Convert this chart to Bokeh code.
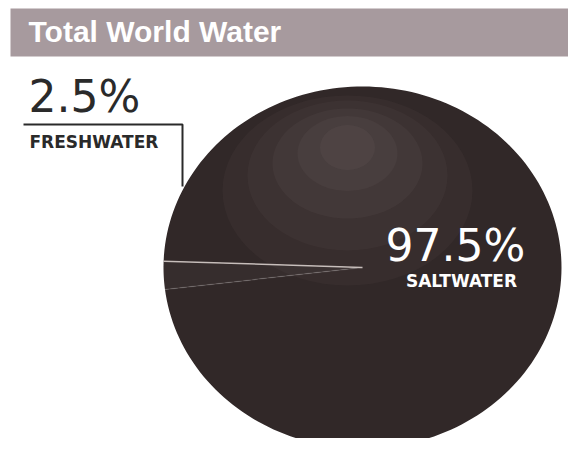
import numpy as np
from bokeh.plotting import figure
from bokeh.models import Range1d, ColumnDataSource
from bokeh.core.properties import value
from bokeh.embed import file_html
from bokeh.resources import INLINE

# ---- data ----
title_text = "Total World Water"
slice_names = ["FRESHWATER", "SALTWATER"]
slice_shares = [2.5, 97.5]
slice_pct_labels = ["2.5%", "97.5%"]

# ---- styling / layout constants ----
slice_colors = ["#362d2d", "#312828"]
START_DEG = 178.0
H_IMG = 454  # image-pixel helper (y measured from top)

def Y(y_img):
    return H_IMG - y_img

def TB(y_img, size):
    # baseline placement correction
    return Y(y_img) + 0.35 * size

CX, CY = 362, Y(267)
RX, RY = 199, 181

p = figure(width=568, height=438, output_backend="svg", toolbar_location=None,
           x_range=Range1d(0, 568), y_range=Range1d(16, 454), min_border=0,
           background_fill_color="white", border_fill_color="white")
p.axis.visible = False
p.grid.visible = False
p.outline_line_color = None

# title band
p.quad(left=[10], right=[576], top=[Y(8)], bottom=[Y(56)],
       fill_color="#a79a9e", line_color=None)
p.text(x=[28], y=[TB(41, 30)], text=[title_text], text_color="white",
       text_font=value("Liberation Sans"), text_font_style="bold",
       text_font_size="30px", text_baseline="alphabetic", text_align="left")

# pie slices (ellipse-shaped, computed from shares)
bounds = START_DEG + np.cumsum([0] + slice_shares) / sum(slice_shares) * 360.0
xs, ys = [], []
for a0, a1 in zip(bounds[:-1], bounds[1:]):
    t = np.radians(np.linspace(a0, a1, 200))
    xs.append([CX] + list(CX + RX * np.cos(t)))
    ys.append([CY] + list(CY + RY * np.sin(t)))
src = ColumnDataSource(dict(xs=xs, ys=ys, color=slice_colors, name=slice_names))
p.patches(xs="xs", ys="ys", fill_color="color", line_color=None, source=src)

# soft sheen on upper part of disc (kept inside the disc)
for w, h, yc, a in [(250, 190, 190, 0.04), (200, 150, 175, 0.04),
                    (150, 110, 163, 0.05), (100, 75, 153, 0.05), (55, 45, 147, 0.05)]:
    p.ellipse(x=[CX - 15], y=[Y(yc)], width=[w], height=[h],
              fill_color="#c0b0b0", fill_alpha=a, line_color=None)

# slice boundary highlight lines
for a, alpha in zip(bounds[:2], [0.85, 0.12]):
    r = np.radians(a)
    p.line(x=[CX, CX + RX * np.cos(r)], y=[CY, CY + RY * np.sin(r)],
           line_color="#d9d0cc", line_width=1.5, line_alpha=alpha)

# freshwater label + leader
p.text(x=[28], y=[TB(111, 44)], text=[slice_pct_labels[0]], text_color="#2a2a2a",
       text_font=value("DejaVu Sans"), text_font_size="44px",
       text_baseline="alphabetic", text_align="left")
p.line(x=[23, 182, 182], y=[Y(124), Y(124), Y(186)], line_color="#2a2a2a", line_width=2)
p.text(x=[29], y=[TB(147, 17)], text=[slice_names[0]], text_color="#2a2a2a",
       text_font=value("DejaVu Sans"), text_font_style="bold", text_font_size="17px",
       text_baseline="alphabetic", text_align="left")

# saltwater label
p.text(x=[455], y=[TB(260, 44)], text=[slice_pct_labels[1]], text_color="white",
       text_font=value("DejaVu Sans"), text_font_size="44px",
       text_baseline="alphabetic", text_align="center")
p.text(x=[461], y=[TB(286, 17)], text=[slice_names[1]], text_color="white",
       text_font=value("DejaVu Sans"), text_font_style="bold", text_font_size="17px",
       text_baseline="alphabetic", text_align="center")

open("out.html", "w").write(file_html(p, INLINE))
